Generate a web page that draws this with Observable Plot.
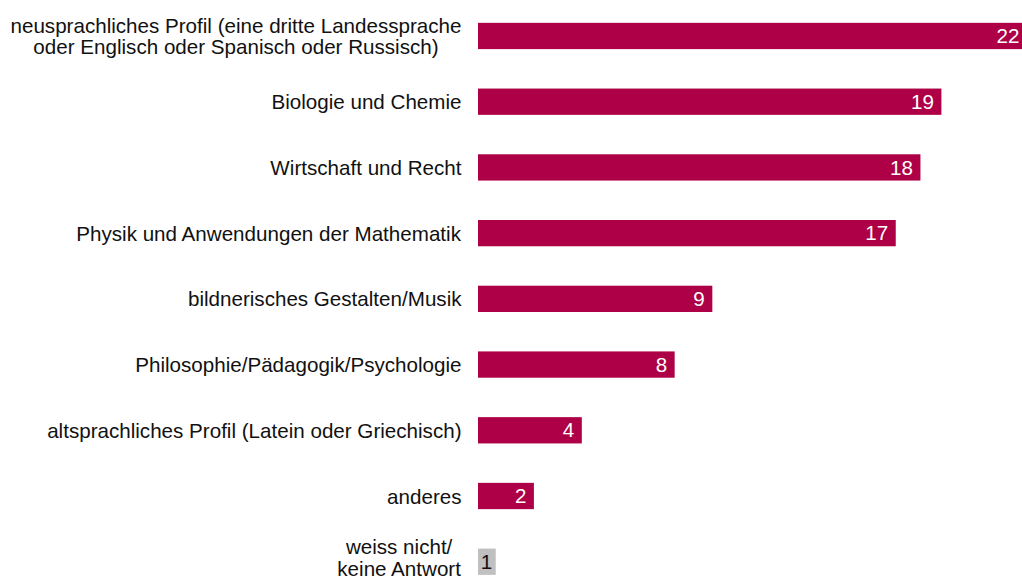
<!DOCTYPE html>
<html>
<head>
<meta charset="utf-8">
<script src="https://cdn.jsdelivr.net/npm/d3@7"></script>
<script src="https://cdn.jsdelivr.net/npm/@observablehq/plot@0.6"></script>
<style>
  html, body { margin: 0; padding: 0; background: #fff; overflow: hidden; }
  #chart svg { display: block; }
</style>
</head>
<body>
<div id="chart"></div>
<script>
// Categories (top to bottom), as shown in the chart
const categories = [
  "neusprachliches Profil (eine dritte Landessprache\noder Englisch oder Spanisch oder Russisch)",
  "Biologie und Chemie",
  "Wirtschaft und Recht",
  "Physik und Anwendungen der Mathematik",
  "bildnerisches Gestalten/Musik",
  "Philosophie/Pädagogik/Psychologie",
  "altsprachliches Profil (Latein oder Griechisch)",
  "anderes",
  "weiss nicht/\nkeine Antwort"
];
// Percent values (labels show them rounded)
const values = [22.0, 18.57, 17.73, 16.74, 9.39, 7.88, 4.16, 2.24, 0.71];
// Label shown in each bar
const valueLabels = ["22", "19", "18", "17", "9", "8", "4", "2", "1"];
// Highlight group: last category is "no answer"
const groups = ["answer", "answer", "answer", "answer", "answer", "answer", "answer", "answer", "none"];

const data = categories.map((c, i) => ({cat: c, value: values[i], label: valueLabels[i], group: groups[i]}));

const FONT = "'Liberation Sans', Arial, Helvetica, sans-serif";
const FS = 20.6;
const ctx = document.createElement("canvas").getContext("2d");
ctx.font = `${FS}px ${FONT}`;
const labelRight = 461;

const labelMarks = data.map((d, i) => {
  const w = d3.max(d.cat.split("\n"), s => ctx.measureText(s).width);
  const last = i === data.length - 1;
  return Plot.text([d], {
    y: "cat",
    text: "cat",
    frameAnchor: "left",
    textAnchor: "middle",
    lineAnchor: "middle",
    lineHeight: 1.06,
    dx: labelRight - w / 2,
    dy: last ? -4 : 0,
    fill: "#111",
    fontSize: FS
  });
});

const chart = Plot.plot({
  width: 1022,
  height: 581,
  marginLeft: 0,
  marginRight: 0,
  marginTop: 0,
  marginBottom: 0,
  style: {fontFamily: FONT, fontSize: FS + "px", background: "#fff"},
  x: {domain: [0, 22], range: [478, 1027], axis: null},
  y: {domain: categories, range: [-16.6, 614.3], padding: 0.6, round: false, axis: null},
  color: {domain: ["answer", "none"], range: ["#AE0046", "#C0C0C0"]},
  marks: [
    Plot.barX(data, {y: "cat", x: "value", fill: "group"}),
    Plot.text(data.filter(d => d.group === "answer"), {
      y: "cat", x: "value", text: "label", textAnchor: "end", dx: -8,
      fill: "#fff", fontSize: FS
    }),
    Plot.text(data.filter(d => d.group === "none"), {
      y: "cat", x: "value", text: "label", textAnchor: "end", dx: -4,
      fill: "#111", fontSize: FS
    }),
    ...labelMarks
  ]
});
document.getElementById("chart").appendChild(chart);
</script>
</body>
</html>
